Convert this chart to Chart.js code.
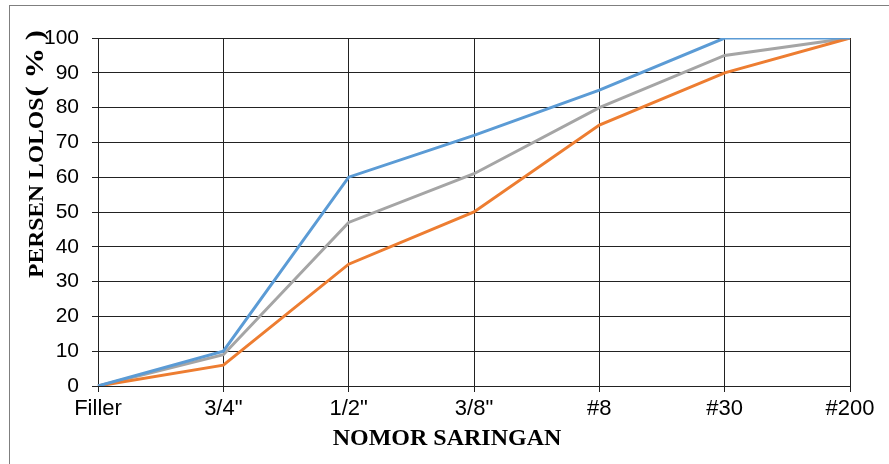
<!DOCTYPE html>
<html lang="en">
<head>
  <meta charset="UTF-8">
  <title>Persen Lolos</title>
  <script src="https://cdn.jsdelivr.net/npm/chart.js"></script>
  <style>
    body { margin: 0; background: #fff; }
    .chart-container { width: 889px; height: 464px; position: relative; }
  </style>
</head>
<body>
  <div class="chart-container">
    <canvas id="gradChart"></canvas>
  </div>
  <script>
    // Data
    const sieves = ['Filler', '3/4"', '1/2"', '3/8"', '#8', '#30', '#200'];
    const upperLimit = [0, 10, 60, 72, 85, 100, 100];
    const lowerLimit = [0, 6, 35, 50, 75, 90, 100];
    const middleLine = [0, 9, 47, 61, 80, 95, 100];

    // Frame + axis titles drawn by hand
    const decorations = {
      id: 'decorations',
      afterDraw(chart) {
        const ctx = chart.ctx;
        const area = chart.chartArea;
        ctx.save();
        ctx.strokeStyle = '#7f7f7f';
        ctx.lineWidth = 1;
        ctx.strokeRect(9.5, 5.5, 1000, 1000);

        ctx.fillStyle = '#000';
        ctx.textBaseline = 'alphabetic';
        ctx.textAlign = 'center';
        ctx.font = 'bold 24px "Liberation Serif"';
        ctx.fillText('NOMOR SARINGAN', area.left + 349, area.bottom + 59);

        // y title, stretched a little along its length like the original
        ctx.textAlign = 'left';
        ctx.translate(43, area.bottom - 108);
        ctx.rotate(-Math.PI / 2);
        ctx.scale(1.18, 1);
        ctx.font = 'bold 20px "Liberation Serif"';
        const first = 'PERSEN LOLOS ';
        ctx.fillText(first, 0, 0);
        const w = ctx.measureText(first).width;
        ctx.font = 'bold 26px "Liberation Serif"';
        ctx.fillText('( % )', w - 4, 0);
        ctx.restore();
      }
    };

    const ctx = document.getElementById('gradChart').getContext('2d');
    new Chart(ctx, {
      type: 'line',
      data: {
        labels: sieves,
        datasets: [
          { label: 'Batas Atas', data: upperLimit, borderColor: '#5b9bd5' },
          { label: 'Batas Bawah', data: lowerLimit, borderColor: '#ed7d31' },
          { label: 'Tengah', data: middleLine, borderColor: '#a5a5a5' }
        ]
      },
      options: {
        responsive: true,
        maintainAspectRatio: false,
        animation: false,
        layout: { padding: { top: 38, right: 39, left: 0, bottom: 0 } },
        elements: {
          line: { borderWidth: 3, tension: 0 },
          point: { radius: 0 }
        },
        plugins: {
          legend: { display: false },
          tooltip: { enabled: false }
        },
        scales: {
          x: {
            offset: false,
            afterFit: s => { s.height = 78; },
            grid: { color: '#222', tickLength: 6 },
            border: { color: '#222' },
            ticks: {
              color: '#000',
              padding: 4,
              maxRotation: 0,
              font: { family: '"Liberation Sans", Arial', size: 22 }
            }
          },
          y: {
            min: 0,
            max: 100,
            afterFit: s => { s.width = 98; },
            grid: { color: '#222', tickLength: 6 },
            border: { color: '#222' },
            ticks: {
              stepSize: 10,
              color: '#000',
              padding: 13,
              font: { family: '"Liberation Sans", Arial', size: 21 }
            }
          }
        }
      },
      plugins: [decorations]
    });
  </script>
</body>
</html>
